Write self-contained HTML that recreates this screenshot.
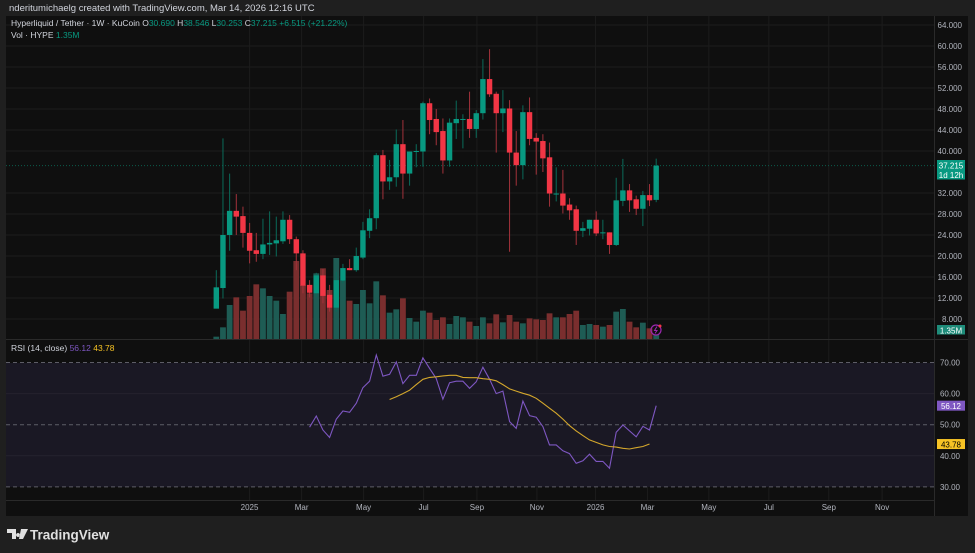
<!DOCTYPE html>
<html><head><meta charset="utf-8">
<style>
html,body{margin:0;padding:0;background:#1f1f1f;width:975px;height:553px;overflow:hidden;font-family:"Liberation Sans",sans-serif;}
svg{position:absolute;left:0;top:0}
</style></head>
<body>
<svg id="chart" width="975" height="553">
<rect x="0" y="0" width="975" height="553" fill="#1f1f1f"/>
<text x="9" y="11" font-size="9.5" fill="#d1d4dc">nderitumichaelg created with TradingView.com, Mar 14, 2026 12:16 UTC</text>
<rect x="6" y="16" width="962" height="500" fill="#0f0f0f"/>
<g id="grid"></g>
<rect x="6" y="363" width="928" height="124" fill="#1a1824"/>
<g id="gridtop"></g>
<g id="vol"></g>
<g id="candles"></g>
<g id="rsi"></g>
<line x1="6" y1="339.5" x2="968" y2="339.5" stroke="#2a2a2a"/>
<line x1="934.5" y1="16" x2="934.5" y2="516" stroke="#2a2a2a"/>
<line x1="6" y1="500.5" x2="934" y2="500.5" stroke="#2a2a2a"/>
<g id="axes"></g>
<text x="11" y="26" font-size="8.5" fill="#d1d4dc">Hyperliquid / Tether · 1W · KuCoin <tspan>O</tspan><tspan fill="#089981">30.690</tspan> H<tspan fill="#089981">38.546</tspan> L<tspan fill="#089981">30.253</tspan> C<tspan fill="#089981">37.215</tspan> <tspan fill="#089981">+6.515 (+21.22%)</tspan></text>
<text x="11" y="38" font-size="8.5" fill="#d1d4dc">Vol · HYPE <tspan fill="#089981">1.35M</tspan></text>
<text x="11" y="351" font-size="8.5" fill="#d1d4dc">RSI (14, close) <tspan fill="#7e57c2">56.12</tspan> <tspan fill="#f7c325">43.78</tspan></text>
<g><circle cx="656" cy="330" r="5" fill="none" stroke="#9c27b0" stroke-width="1.2"/><path d="M657 326.5 L654.5 330.5 L657 330.5 L655 333.5" stroke="#9c27b0" fill="none" stroke-width="1"/><circle cx="660" cy="326" r="1.5" fill="#f23645"/></g>
<g><path d="M7 529 h9 v10 h-4 v-6 h-5z M18 533 a2 2 0 1 0 0.1 0z M21 529 h7 l-5 10 h-4z" fill="#e0e0e0"/><text x="30" y="539.5" font-size="13.5" font-weight="bold" fill="#e0e0e0">TradingView</text></g>
</svg>
<script>
// ===== Candle data (weekly) =====
const opens  = [9.97,13.9,24.0,28.6,27.6,24.4,21.1,20.4,22.2,22.4,22.8,26.9,23.2,20.5,14.5,12.9,16.3,12.6,10.16,15.3,17.7,17.3,19.7,24.8,27.2,39.2,34.2,35.0,41.3,35.7,40.0,39.9,49.1,46.1,43.8,38.2,45.3,46.1,46.1,44.2,47.2,53.7,50.9,47.2,48.1,39.7,37.3,47.4,42.5,41.9,38.8,31.9,31.9,29.8,28.9,24.8,25.2,26.9,24.5,24.5,22.1,30.5,32.5,30.8,29.0,31.6,30.69];
const highs  = [17.3,42.4,35.7,31.8,29.4,26.3,24.4,27.1,28.5,27.5,28.5,27.8,23.7,21.1,15.4,16.8,17.5,14.5,17.0,18.5,19.4,21.6,26.5,28.9,39.6,40.2,38.3,44.1,45.9,39.9,41.3,49.4,50.0,48.0,46.2,46.2,49.6,47.0,51.3,47.8,57.5,59.4,51.3,51.6,49.7,43.8,48.7,50.2,43.4,43.2,41.6,36.9,36.4,31.0,29.6,26.5,26.9,28.5,26.9,24.5,34.9,38.5,33.7,31.5,32.4,33.7,38.546];
const lows   = [10.0,11.9,21.0,24.0,21.6,18.6,18.9,19.4,20.2,19.9,22.3,22.3,17.3,12.9,12.1,12.2,11.0,9.4,9.4,14.8,17.3,17.0,19.4,23.4,25.1,30.8,32.6,33.2,30.9,33.4,36.9,37.0,43.2,41.1,35.7,37.0,42.3,40.5,42.5,42.5,46.0,50.3,39.7,43.6,20.8,33.4,34.6,41.1,35.5,36.0,29.4,30.4,28.1,26.9,22.1,23.6,23.9,23.8,23.2,20.4,21.9,29.5,28.4,27.8,25.7,29.5,30.253];
const closes = [14.03,24.0,28.6,27.5,24.4,21.0,20.4,22.2,22.5,23.0,26.9,23.2,20.5,14.35,13.0,16.3,12.4,10.16,15.4,17.7,17.3,20.0,24.9,27.2,39.2,34.2,35.0,41.3,35.7,39.9,40.0,49.1,45.9,43.6,38.2,45.4,46.1,46.1,44.2,47.2,53.7,50.8,47.2,48.1,39.7,37.3,47.4,42.3,41.8,38.6,31.9,31.9,29.6,28.7,24.8,25.3,26.9,24.3,24.5,22.1,30.6,32.5,30.6,29.0,31.6,30.6,37.215];
const volumes = [0.7,3.5,10.2,12.5,8.5,12.9,16.4,15.2,12.9,11.5,7.5,14.2,23.4,16.2,13.7,19.7,21.2,14.7,24.3,17.5,11.5,10.5,14.7,10.7,17.3,13.1,7.9,8.9,12.2,6.3,5.2,8.5,7.9,5.7,6.5,4.5,6.9,6.5,5.2,3.9,6.5,4.7,7.4,5.0,7.2,5.2,4.7,6.2,5.9,5.7,7.7,6.5,6.5,7.5,8.5,4.2,4.5,4.2,3.7,4.2,8.2,9.0,5.2,3.5,4.9,3.2,1.35];
// RSI starts at candle index 14, MA at candle index 26
const rsiValues = [49.2,52.8,48.3,45.9,51.8,54.4,54.0,56.9,61.9,64.0,72.4,65.6,66.2,70.2,63.2,65.9,65.9,71.5,68.1,64.9,58.2,63.5,64.0,64.0,61.7,63.8,68.5,64.6,60.0,60.8,51.0,48.8,57.6,52.9,52.4,49.4,43.5,43.5,41.6,40.7,37.6,38.4,40.5,38.2,38.2,36.0,47.6,49.9,48.0,46.1,49.5,48.3,56.12];
const rsiMA = [58.1,59.0,60.0,61.1,62.9,64.6,65.2,65.4,65.7,65.9,65.9,65.2,65.1,65.1,64.8,64.6,64.1,62.9,61.5,60.8,60.1,59.5,58.5,56.9,55.3,53.7,51.8,49.7,48.0,46.5,45.1,44.3,43.5,43.0,42.8,42.4,42.2,42.6,43.0,43.78];
const priceTicks = [64,60,56,52,48,44,40,32,28,24,20,16,12,8];
const rsiTicks = [70,60,50,40,30];
const timeLabels = ["2025","Mar","May","Jul","Sep","Nov","2026","Mar","May","Jul","Sep","Nov"];
const timeIdx = [4.99,12.8,22.1,31.1,39.1,48.1,56.9,64.7,73.9,82.9,91.9,99.9];

const NS="http://www.w3.org/2000/svg";
const X0=216.3, STEP=6.665;
const xAt=i=>X0+i*STEP;
const yP=p=>25+(64-p)*5.25;
const yR=v=>362.5+(70-v)*3.11;
const yV=v=>339-v*10/3;
function mk(tag,parent,attrs){const e=document.createElementNS(NS,tag);for(const k in attrs)e.setAttribute(k,attrs[k]);document.getElementById(parent).appendChild(e);return e;}
const UP="#089981",DN="#f23645",UPV="#1e5c54",DNV="#7a2e2e";

// grid
priceTicks.forEach(p=>{const l=mk('line','grid',{x1:6,x2:934,y1:yP(p),y2:yP(p),stroke:'#1c1c1c'});

});
timeIdx.forEach(t=>{const l=mk('line','grid',{x1:xAt(t),x2:xAt(t),y1:16,y2:500,stroke:'#1c1c1c'});

});
rsiTicks.forEach(v=>{const dashed=(v%20===10);const l=mk('line','gridtop',{x1:6,x2:934,y1:yR(v),y2:yR(v),stroke:dashed?'#5d5d66':'#25222e','stroke-dasharray':dashed?'4,3':'none'});

});
// last price line
{const l=mk('line','gridtop',{x1:6,x2:934,y1:yP(closes[closes.length-1]),y2:yP(closes[closes.length-1]),stroke:'#0b5c4b','stroke-dasharray':'1,2'});

}

// volume
volumes.forEach((v,i)=>{const up=closes[i]>=opens[i];const r=mk('rect','vol',{x:xAt(i)-2.9,y:yV(v),width:5.8,height:339-yV(v),fill:up?UPV:DNV});

});

// candles
opens.forEach((o,i)=>{const c=closes[i];const up=c>=o;const col=up?UP:DN;const x=xAt(i);
const w=mk('line','candles',{x1:x,x2:x,y1:yP(highs[i]),y2:yP(lows[i]),stroke:up?'#0a6b5a':'#a3323b','stroke-width':1});


const top=yP(Math.max(o,c)),bot=yP(Math.min(o,c));
const b=mk('rect','candles',{x:x-2.7,y:top,width:5.4,height:Math.max(1,bot-top),fill:col});

});

// RSI
const rsiPts=rsiValues.map((v,j)=>xAt(14+j).toFixed(1)+','+yR(v).toFixed(1)).join(' ');
const rl=mk('polyline','rsi',{points:rsiPts,fill:'none',stroke:'#7e57c2','stroke-width':1.1});


const maPts=rsiMA.map((v,j)=>xAt(26+j).toFixed(1)+','+yR(v).toFixed(1)).join(' ');
const ml=mk('polyline','rsi',{points:maPts,fill:'none',stroke:'#d4a72c','stroke-width':1.1});



// axes labels
priceTicks.forEach(p=>{const t=mk('text','axes',{x:962,y:yP(p)+3,'font-size':8,fill:'#b2b5be','text-anchor':'end'});t.textContent=p.toFixed(3);

});
[[60,false],[50,false],[40,false],[30,false],[70,false]].forEach(([v])=>{const t=mk('text','axes',{x:960,y:yR(v)+3,'font-size':8,fill:'#b2b5be','text-anchor':'end'});t.textContent=v.toFixed(2);

});
timeLabels.forEach((s,k)=>{const t=mk('text','axes',{x:xAt(timeIdx[k]),y:510,'font-size':8,fill:'#b2b5be','text-anchor':'middle'});t.textContent=s;

});
// price badges
function badge(y,h,fill,lines,tc,name){const r=mk('rect','axes',{x:937,y:y,width:28,height:h,fill:fill});


lines.forEach((s,k)=>{const t=mk('text','axes',{x:951,y:y+8.5+k*9.5,'font-size':8,fill:tc,'text-anchor':'middle'});t.textContent=s;

});}
badge(160,19.5,'#089981',['37.215','1d 12h'],'#fff','last-price-badge');
badge(325,9.5,'#1e8c7a',['1.35M'],'#fff','volume-badge');
badge(yR(56.12)-5,10,'#7e57c2',['56.12'],'#fff','rsi-value-badge');
badge(yR(43.78)-5,10,'#f7c325',['43.78'],'#000','rsi-ma-badge');
</script>
</body></html>
